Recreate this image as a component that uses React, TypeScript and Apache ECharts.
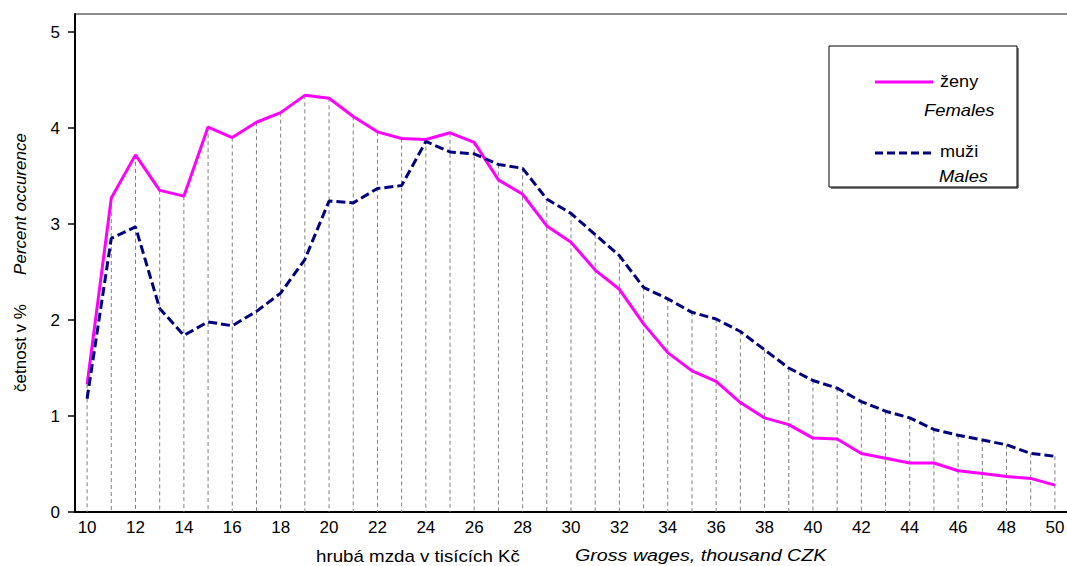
import React, { useEffect, useRef } from "react";
import * as echarts from "echarts";

const categories: string[] = [];
for (let v = 10; v <= 50; v++) categories.push(String(v));

const females = [1.33, 3.27, 3.72, 3.35, 3.29, 4.01, 3.90, 4.06, 4.16, 4.34, 4.31, 4.12, 3.96, 3.89, 3.88, 3.95, 3.85, 3.46, 3.31, 2.98, 2.81, 2.52, 2.32, 1.96, 1.66, 1.47, 1.36, 1.14, 0.98, 0.91, 0.77, 0.76, 0.61, 0.56, 0.51, 0.51, 0.43, 0.40, 0.37, 0.35, 0.28];
const males = [1.18, 2.85, 2.97, 2.12, 1.84, 1.98, 1.94, 2.09, 2.28, 2.63, 3.24, 3.22, 3.37, 3.40, 3.86, 3.75, 3.73, 3.62, 3.58, 3.26, 3.11, 2.89, 2.67, 2.34, 2.22, 2.08, 2.01, 1.88, 1.69, 1.50, 1.37, 1.29, 1.15, 1.05, 0.98, 0.86, 0.80, 0.75, 0.70, 0.61, 0.58];
const yTicks = [0, 1, 2, 3, 4, 5];

const femaleName = "ženy";
const femaleNameEn = "Females";
const maleName = "muži";
const maleNameEn = "Males";
const xTitleCz = "hrubá mzda v tisících Kč";
const xTitleEn = "Gross wages, thousand CZK";
const yTitleCz = "četnost v %";
const yTitleEn = "Percent occurence";

const FONT = "'Liberation Sans', Arial, sans-serif";

export default function App() {
  const ref = useRef<HTMLDivElement>(null);
  useEffect(() => {
    if (!ref.current) return;
    const chart = echarts.init(ref.current, null, { renderer: "svg" });
    const drops = categories.map((_, i) => [i, Math.max(females[i], males[i])]);
    chart.setOption({
      animation: false,
      backgroundColor: "#ffffff",
      textStyle: { fontFamily: FONT },
      grid: { left: 75, top: 14, right: 0, bottom: 54, containLabel: false, outerBoundsMode: "none" },
      xAxis: {
        type: "category",
        data: categories,
        boundaryGap: true,
        axisLine: { show: true, lineStyle: { color: "#000", width: 2 } },
        axisTick: { show: false },
        axisLabel: { interval: 1, color: "#000", fontSize: 17, fontFamily: FONT, margin: 7 },
        splitLine: { show: false },
      },
      yAxis: {
        type: "value",
        min: 0,
        max: 5.1875,
        interval: 1,
        axisLine: { show: true, lineStyle: { color: "#000", width: 2 } },
        axisTick: { show: true, length: 7, lineStyle: { color: "#000", width: 1.5 }, customValues: yTicks },
        axisLabel: {
          color: "#000",
          fontSize: 17,
          fontFamily: FONT,
          margin: 15,
          customValues: yTicks,
          formatter: (v: number) => (Math.abs(v - Math.round(v)) < 1e-6 ? String(Math.round(v)) : ""),
        },
        splitLine: { show: false },
      },
      series: [
        {
          type: "custom",
          name: "drop",
          silent: true,
          z: 1,
          renderItem: (params: any, api: any) => {
            const i = api.value(0);
            const top = api.coord([i, api.value(1)]);
            const bot = api.coord([i, 0]);
            return {
              type: "line",
              shape: { x1: top[0], y1: top[1], x2: bot[0], y2: bot[1] },
              style: { stroke: "#808080", lineWidth: 1, lineDash: [4, 3] },
            };
          },
          data: drops,
        },
        {
          type: "line",
          name: femaleName,
          data: females,
          symbol: "none",
          z: 3,
          lineStyle: { color: "#FF00FF", width: 3 },
        },
        {
          type: "line",
          name: maleName,
          data: males,
          symbol: "none",
          z: 4,
          lineStyle: { color: "#000080", width: 3, type: [9, 4] },
        },
      ],
      graphic: [
        { type: "line", shape: { x1: 75, y1: 14, x2: 1067, y2: 14 }, style: { stroke: "#8c8c8c", lineWidth: 2 } },
        { type: "rect", shape: { x: 829, y: 46, width: 188, height: 141 }, style: { fill: "#fff", stroke: "#000", lineWidth: 1 }, z: 10 },
        { type: "line", shape: { x1: 1018, y1: 48, x2: 1018, y2: 188 }, style: { stroke: "#000", lineWidth: 1 }, z: 10 },
        { type: "line", shape: { x1: 831, y1: 188, x2: 1018, y2: 188 }, style: { stroke: "#000", lineWidth: 1 }, z: 10 },
        { type: "line", shape: { x1: 875, y1: 82, x2: 933, y2: 82 }, style: { stroke: "#FF00FF", lineWidth: 3 }, z: 11 },
        { type: "line", shape: { x1: 875, y1: 153, x2: 933, y2: 153 }, style: { stroke: "#000080", lineWidth: 3, lineDash: [8, 4] }, z: 11 },
        { type: "text", x: 940, y: 82, scaleX: 1.13, z: 11, style: { text: femaleName, fontSize: 16, fontFamily: FONT, fill: "#000", textAlign: "left", textVerticalAlign: "middle" } },
        { type: "text", x: 924, y: 110, scaleX: 1.15, z: 11, style: { text: femaleNameEn, fontSize: 16, fontStyle: "italic", fontFamily: FONT, fill: "#000", textAlign: "left", textVerticalAlign: "middle" } },
        { type: "text", x: 940, y: 152, scaleX: 1.13, z: 11, style: { text: maleName, fontSize: 16, fontFamily: FONT, fill: "#000", textAlign: "left", textVerticalAlign: "middle" } },
        { type: "text", x: 939, y: 176, scaleX: 1.15, z: 11, style: { text: maleNameEn, fontSize: 16, fontStyle: "italic", fontFamily: FONT, fill: "#000", textAlign: "left", textVerticalAlign: "middle" } },
        { type: "text", x: 316, y: 556, scaleX: 1.17, style: { text: xTitleCz, fontSize: 16, fontFamily: FONT, fill: "#000", textAlign: "left", textVerticalAlign: "middle" } },
        { type: "text", x: 575, y: 556, scaleX: 1.23, style: { text: xTitleEn, fontSize: 16, fontStyle: "italic", fontFamily: FONT, fill: "#000", textAlign: "left", textVerticalAlign: "middle" } },
        { type: "text", x: 20, y: 348, rotation: Math.PI / 2, style: { text: yTitleCz, fontSize: 17, fontFamily: FONT, fill: "#000", textAlign: "center", textVerticalAlign: "middle" } },
        { type: "text", x: 20, y: 204, rotation: Math.PI / 2, style: { text: yTitleEn, fontSize: 17, fontStyle: "italic", fontFamily: FONT, fill: "#000", textAlign: "center", textVerticalAlign: "middle" } },
      ],
    });
    return () => chart.dispose();
  }, []);
  return <div ref={ref} style={{ position: "fixed", left: 0, top: 0, width: 1067, height: 566 }} />;
}
